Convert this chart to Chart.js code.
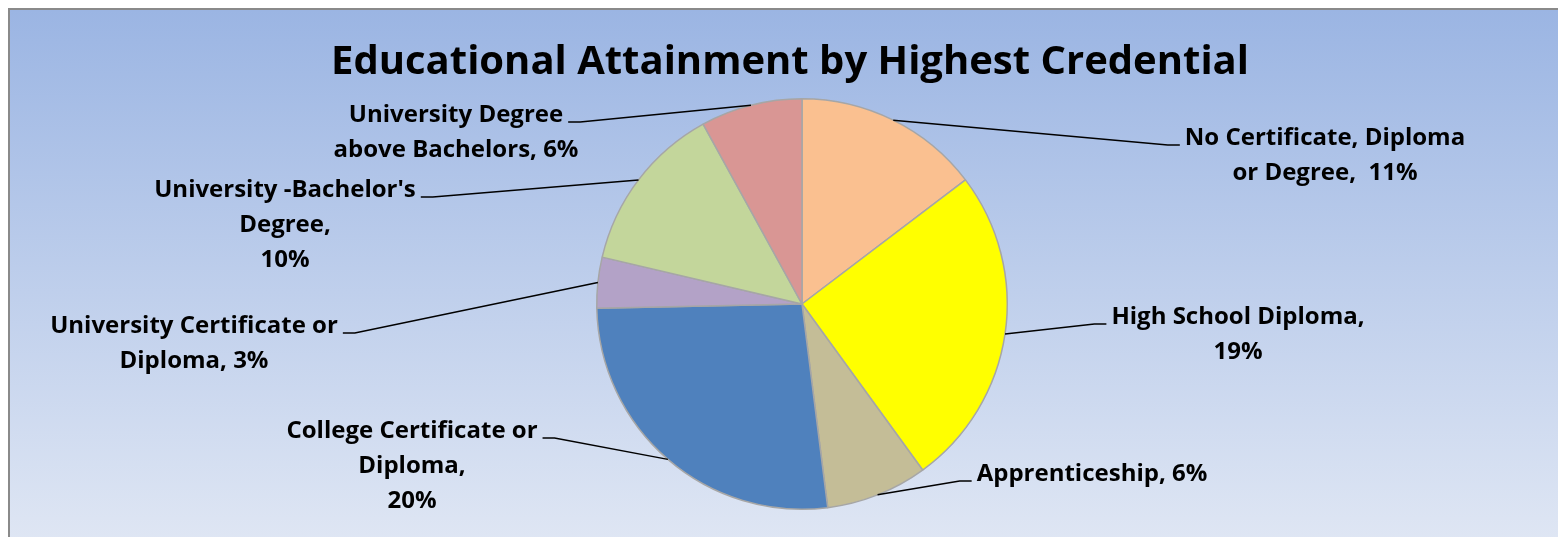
<!DOCTYPE html>
<html>
<head>
<meta charset="utf-8">
<script src="https://cdn.jsdelivr.net/npm/chart.js@4"></script>
<style>
  html, body { margin: 0; padding: 0; background: #fff; overflow: hidden; }
  #frame {
    position: absolute; left: 8px; top: 8px; width: 1560px; height: 540px;
    border-left: 2px solid #8a8a8a; border-top: 2px solid #8a8a8a;
    background: linear-gradient(to bottom, #9bb5e3 0%, #e0e7f4 100%);
  }
  #chart { position: absolute; left: 0; top: 0; }
</style>
</head>
<body>
<div id="frame"></div>
<canvas id="chart" width="1558" height="537"></canvas>
<script>
const categories = [
  'No Certificate, Diploma or Degree',
  'High School Diploma',
  'Apprenticeship',
  'College Certificate or Diploma',
  'University Certificate or Diploma',
  "University -Bachelor's Degree",
  'University Degree above Bachelors'
];
const values = [11, 19, 6, 20, 3, 10, 6];
const colors = ['#fac090', '#ffff00', '#c4bd97', '#4f81bd', '#b3a2c7', '#c3d69b', '#d99694'];

// how each data label wraps ({v} is the value)
const labelText = [
  'No Certificate, Diploma|or Degree,  {v}%',
  'High School Diploma,|{v}%',
  'Apprenticeship, {v}%',
  'College Certificate or|Diploma,|{v}%',
  'University Certificate or|Diploma, {v}%',
  "University -Bachelor's|Degree,|{v}%",
  'University Degree|above Bachelors, {v}%'
];

const TITLE = 'Educational Attainment by Highest Credential';
const FONT = '"Open Sans", Lato, sans-serif';

// label anchor offsets from pie centre: text centre x, first baseline y
const labelPos = [
  { dx: 523, dy: -159, side: 'right' },
  { dx: 436, dy: 20, side: 'right' },
  { dx: 290, dy: 177, side: 'right' },
  { dx: -390, dy: 134, side: 'left' },
  { dx: -608, dy: 29, side: 'left' },
  { dx: -517, dy: -107, side: 'left' },
  { dx: -346, dy: -182, side: 'left' }
];

const outsideLabels = {
  id: 'outsideLabels',
  afterDatasetsDraw(chart) {
    const ctx = chart.ctx;
    const meta = chart.getDatasetMeta(0);
    ctx.save();
    ctx.font = 'bold 24px ' + FONT;
    ctx.fillStyle = '#000';
    ctx.strokeStyle = '#000';
    ctx.lineWidth = 1.5;
    ctx.textAlign = 'center';
    ctx.textBaseline = 'alphabetic';
    meta.data.forEach((arc, i) => {
      const p = arc.getProps(['x', 'y', 'startAngle', 'endAngle', 'outerRadius'], true);
      const mid = (p.startAngle + p.endAngle) / 2;
      const ex = p.x + Math.cos(mid) * p.outerRadius;
      const ey = p.y + Math.sin(mid) * p.outerRadius;
      const pos = labelPos[i];
      const tx = p.x + pos.dx;
      const ty = p.y + pos.dy;
      const lines = labelText[i].replace('{v}', values[i]).split('|');
      const w = ctx.measureText(lines[0]).width;
      let hx1, hx2;
      if (pos.side === 'right') {
        hx2 = tx - w / 2 - 5;
        hx1 = hx2 - 12;
      } else {
        hx2 = tx + w / 2 + 5;
        hx1 = hx2 + 12;
      }
      ctx.beginPath();
      ctx.moveTo(ex, ey);
      ctx.lineTo(hx1, ty);
      ctx.lineTo(hx2, ty);
      ctx.stroke();
      lines.forEach((t, k) => ctx.fillText(t, tx, ty + k * 35));
    });
    ctx.restore();
  }
};

const titlePlugin = {
  id: 'bigTitle',
  afterDraw(chart) {
    const ctx = chart.ctx;
    ctx.save();
    ctx.font = 'bold 40px ' + FONT;
    ctx.fillStyle = '#000';
    ctx.textAlign = 'center';
    ctx.textBaseline = 'alphabetic';
    ctx.fillText(TITLE, 790, 74);
    ctx.restore();
  }
};

new Chart(document.getElementById('chart'), {
  type: 'pie',
  data: {
    labels: categories,
    datasets: [{
      data: values,
      backgroundColor: colors,
      borderColor: '#a6a6a6',
      borderWidth: 1.5
    }]
  },
  options: {
    responsive: false,
    animation: false,
    events: [],
    layout: { padding: { left: 400, right: 354, top: 98, bottom: 27 } },
    plugins: {
      legend: { display: false },
      tooltip: { enabled: false },
      title: { display: false }
    }
  },
  plugins: [outsideLabels, titlePlugin]
});
</script>
</body>
</html>
